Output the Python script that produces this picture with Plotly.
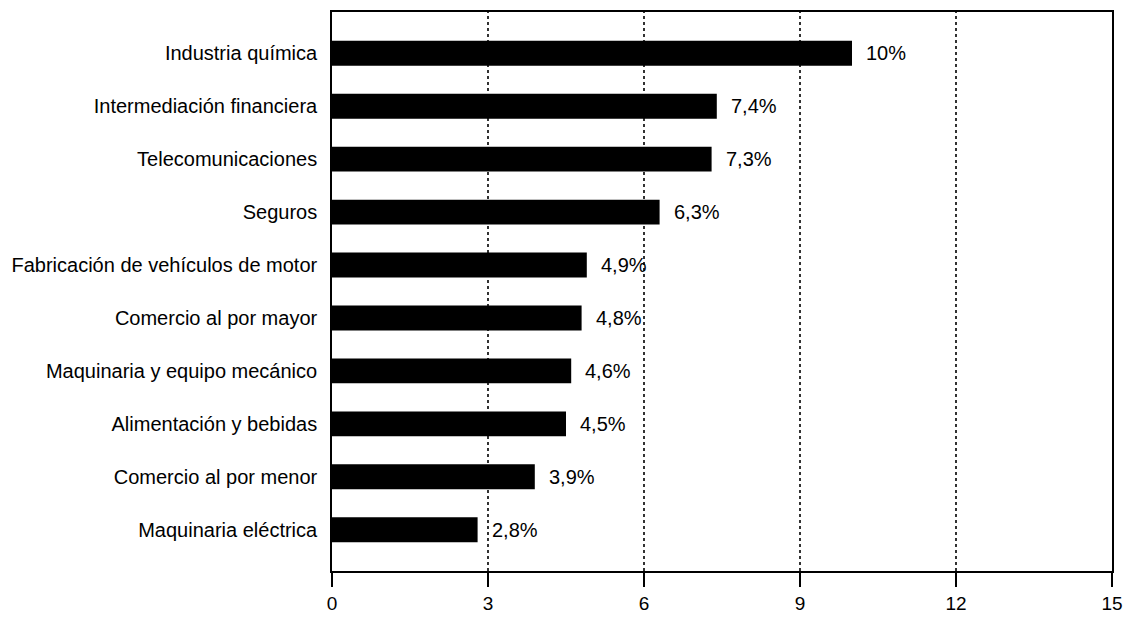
import plotly.graph_objects as go

categories = ["Industria química", "Intermediación financiera", "Telecomunicaciones", "Seguros",
              "Fabricación de vehículos de motor", "Comercio al por mayor",
              "Maquinaria y equipo mecánico", "Alimentación y bebidas",
              "Comercio al por menor", "Maquinaria eléctrica"]
values = [10, 7.4, 7.3, 6.3, 4.9, 4.8, 4.6, 4.5, 3.9, 2.8]
value_labels = ["10%", "7,4%", "7,3%", "6,3%", "4,9%", "4,8%", "4,6%", "4,5%", "3,9%", "2,8%"]
x_ticks = [0, 3, 6, 9, 12, 15]

FONT = "Liberation Sans, Arial, sans-serif"
FS = 20

fig = go.Figure()
fig.add_trace(go.Bar(
    x=values, y=categories, orientation="h",
    marker=dict(color="black", line=dict(width=0)),
    width=0.47, showlegend=False, hoverinfo="skip",
))

for c, v, t in zip(categories, values, value_labels):
    fig.add_annotation(x=v, y=c, text=t, showarrow=False, xanchor="left",
                       xshift=12, font=dict(family=FONT, size=FS, color="black"))

for g in [3, 6, 9, 12]:
    fig.add_shape(type="line", x0=g, x1=g, y0=0, y1=1, xref="x", yref="paper",
                  line=dict(color="black", width=1.6, dash="dot"), layer="below")

fig.update_layout(
    width=1133, height=617,
    margin=dict(l=332, r=21, t=12, b=46, autoexpand=False),
    paper_bgcolor="white", plot_bgcolor="white",
    font=dict(family=FONT, size=FS, color="black"),
)
fig.update_xaxes(range=[0, 15], tickvals=x_ticks, ticktext=[str(t) for t in x_ticks],
                 showgrid=False, zeroline=False, showline=True, linecolor="black",
                 linewidth=1.6, mirror=True, ticks="outside", ticklen=14,
                 tickwidth=1.6, tickcolor="black", ticklabelstandoff=0,
                 tickfont=dict(size=19), automargin=False)
fig.update_yaxes(range=[9.78, -0.78], categoryorder="array", categoryarray=categories,
                 showgrid=False, zeroline=False, showline=True, linecolor="black",
                 linewidth=1.6, mirror=True, ticks="", ticklabelstandoff=9,
                 tickfont=dict(size=FS), automargin=False)

fig.write_html("out.html")
